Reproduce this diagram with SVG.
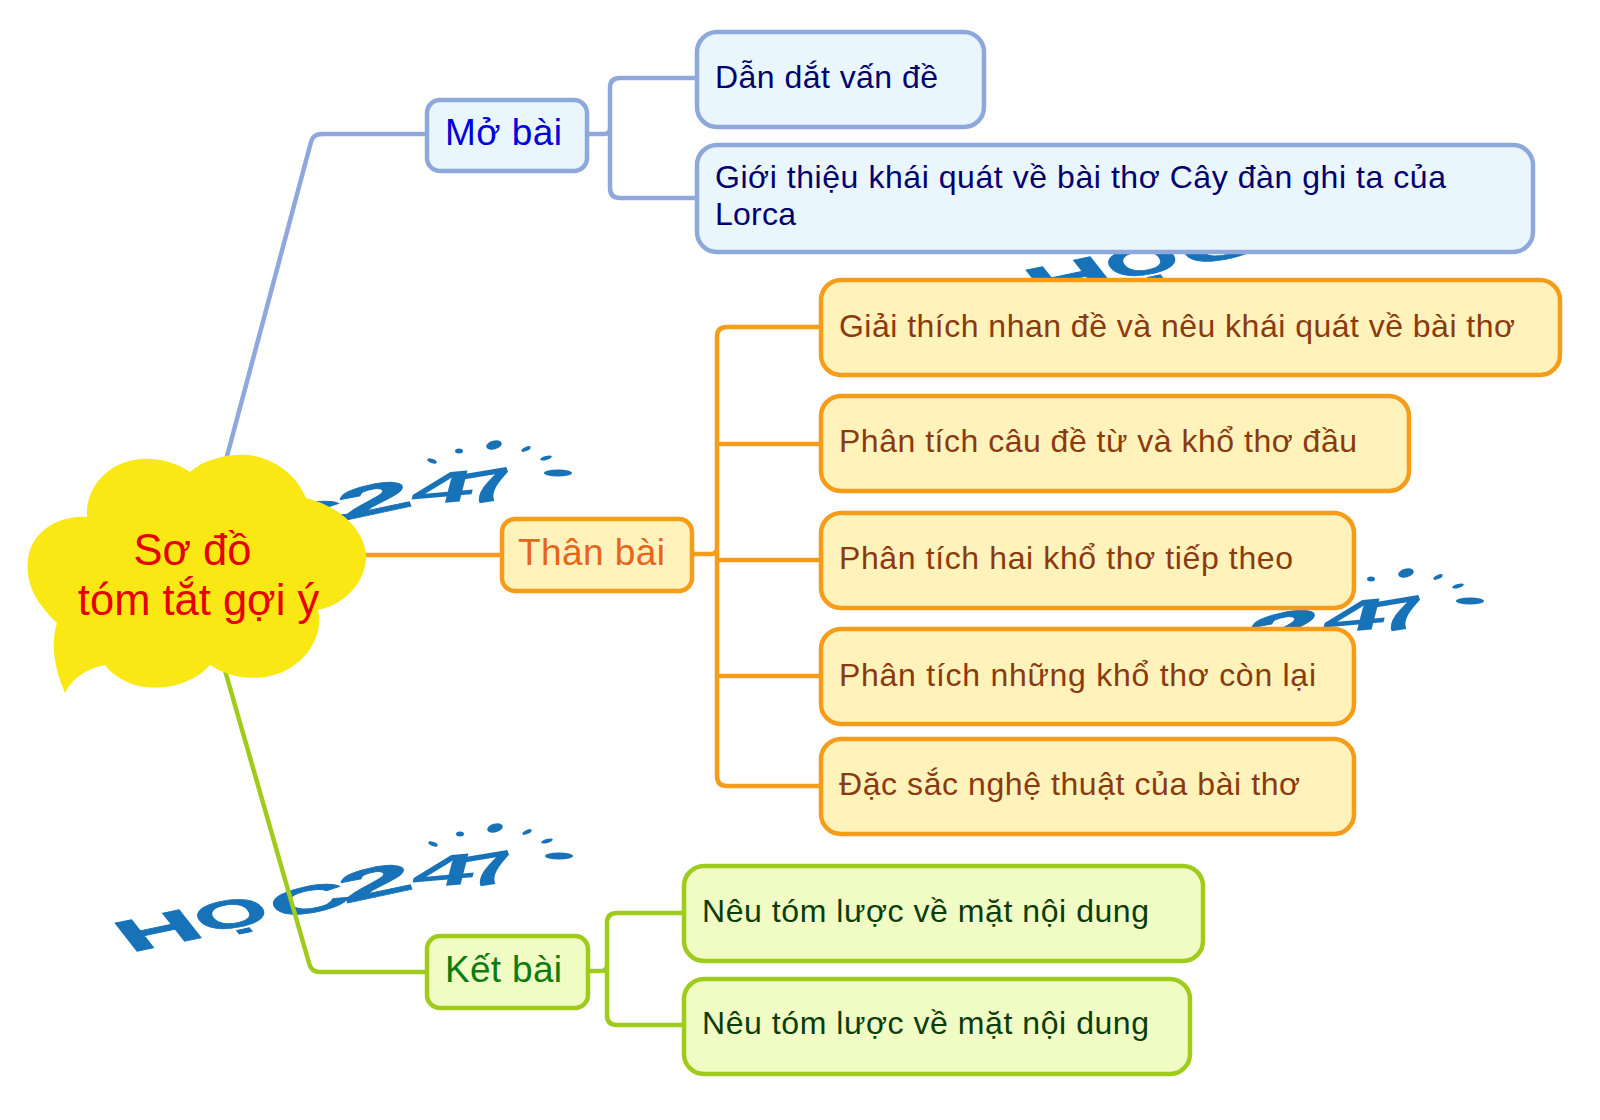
<svg xmlns="http://www.w3.org/2000/svg" xmlns:xlink="http://www.w3.org/1999/xlink" width="1600" height="1120" viewBox="0 0 1600 1120">
<style>
text{font-family:"Liberation Sans",Arial,"Noto Sans",sans-serif}
.lg{font-size:100px;font-weight:700;fill:#1872b8;stroke:#1872b8;stroke-width:2}
.dot{fill:#1872b8}
.c{fill:none;stroke-width:4.5;stroke-linejoin:round;stroke-linecap:butt}
.b{stroke:#8fa8dc}.o{stroke:#f59c1a}.g{stroke:#9fcb1a}
.nb{fill:#eaf6fd;stroke:#8fa8dc;stroke-width:4.5}
.no{fill:#fff2bb;stroke:#f59c1a;stroke-width:4.5}
.ng{fill:#f1fbc4;stroke:#9fcb1a;stroke-width:4.5}
.leaf{font-size:32px}
.main{font-size:37px}
.tb{fill:#00006e}.to{fill:#8b3a0e}.tg{fill:#0a3d0a}
</style>
<defs>
<g id="logo">
<text class="lg" transform="matrix(1.07 -.224 .32 .407 130.5 952.6)">H</text>
<text class="lg" transform="matrix(.88 -.19 .286 .357 206.6 933.7)">Ọ</text>
<text class="lg" transform="matrix(1.05 -.235 .23 .34 279 920)">C</text>
<text class="lg" transform="matrix(1.3 -.28 .143 .4 344 903.8)">2</text>
<text class="lg" style="stroke-width:0" transform="matrix(1.12 -.1 -.114 .45 409.3 889)">4</text>
<text class="lg" style="stroke-width:0" transform="matrix(1.02 -.17 .16 .435 466 888.7)">7</text>
<ellipse class="dot" cx="495" cy="828" rx="8" ry="4.5" transform="rotate(-15 495 828)"/>
<ellipse class="dot" cx="460" cy="834" rx="4" ry="2.5"/>
<ellipse class="dot" cx="433" cy="844" rx="5" ry="2" transform="rotate(20 433 844)"/>
<ellipse class="dot" cx="527" cy="832" rx="5" ry="2" transform="rotate(-25 527 832)"/>
<ellipse class="dot" cx="547" cy="841" rx="6" ry="2" transform="rotate(-15 547 841)"/>
<ellipse class="dot" cx="559" cy="856" rx="14" ry="3.5"/>
</g>
</defs>
<rect width="1600" height="1120" fill="#fff"/>
<g id="watermarks">
<use xlink:href="#logo" href="#logo"/>
<use xlink:href="#logo" href="#logo" transform="translate(-1 -383)"/>
<use xlink:href="#logo" href="#logo" transform="translate(911 -255)"/>
<use xlink:href="#logo" href="#logo" transform="translate(911 -653)"/>
</g>
<g id="connectors">
<path class="c b" d="M226 460L311 142Q313 134 322 134L426 134"/>
<path class="c b" d="M589 134H604Q610 134 610 128V88Q610 78 620 78H697M610 128V188Q610 198 620 198H697"/>
<path class="c o" d="M350 555H501"/>
<path class="c o" d="M693 554H711Q717 554 717 548V337Q717 327 727 327H820M717 444H820M717 548V560H820M717 560V676H820M717 676V776Q717 786 727 786H820"/>
<path class="c g" d="M222 660L309 963Q311 972 320 972L425 972"/>
<path class="c g" d="M589 971H601Q607 971 607 965V923Q607 913 617 913H683M607 965V1015Q607 1025 617 1025H683"/>
</g>
<g id="root">
<path fill="#f9e814" d="M65 693C55 670 50 645 57 623C38 605 25 585 28 560C30 535 55 515 87 517C85 490 105 465 134 460C155 456 175 462 190 472C205 458 235 452 255 456C280 462 298 478 306 498C335 505 362 525 366 553C368 580 345 605 318 610C325 640 300 672 265 677C245 680 225 675 210 665C195 682 170 690 145 687C128 685 112 675 105 665C88 668 72 678 65 693Z"/>
<text x="192.500" y="565" text-anchor="middle" font-size="43.500" fill="#e60000">Sơ đồ</text>
<text x="198.500" y="615" text-anchor="middle" font-size="43.500" fill="#e60000">tóm tắt gợi ý</text>
</g>
<g id="mo-bai">
<rect class="nb" x="427" y="100" width="160" height="71" rx="13"/>
<text class="main" x="445" y="145" fill="#0000dc" textLength="117">Mở bài</text>
</g>
<g id="mo-1">
<rect class="nb" x="697" y="32" width="287" height="95" rx="20"/>
<text class="leaf tb" x="715" y="88" textLength="223">Dẫn dắt vấn đề</text>
</g>
<g id="mo-2">
<rect class="nb" x="697" y="145" width="836" height="107" rx="20"/>
<text class="leaf tb" x="715" y="188" textLength="731">Giới thiệu khái quát về bài thơ Cây đàn ghi ta của</text>
<text class="leaf tb" x="715" y="225" textLength="81">Lorca</text>
</g>
<g id="than-bai">
<rect class="no" x="502" y="519" width="190" height="72" rx="13" fill="#fff2c8"/>
<text class="main" x="518" y="565" fill="#e8641a" textLength="147">Thân bài</text>
</g>
<g id="than-1">
<rect class="no" x="821" y="280" width="739" height="95" rx="20"/>
<text class="leaf to" x="839" y="337" textLength="676">Giải thích nhan đề và nêu khái quát về bài thơ</text>
</g>
<g id="than-2">
<rect class="no" x="821" y="396" width="588" height="95" rx="20"/>
<text class="leaf to" x="839" y="452" textLength="518">Phân tích câu đề từ và khổ thơ đầu</text>
</g>
<g id="than-3">
<rect class="no" x="821" y="513" width="533" height="95" rx="20"/>
<text class="leaf to" x="839" y="569" textLength="454">Phân tích hai khổ thơ tiếp theo</text>
</g>
<g id="than-4">
<rect class="no" x="821" y="629" width="533" height="95" rx="20"/>
<text class="leaf to" x="839" y="686" textLength="477">Phân tích những khổ thơ còn lại</text>
</g>
<g id="than-5">
<rect class="no" x="821" y="739" width="533" height="95" rx="20"/>
<text class="leaf to" x="839" y="795" textLength="461">Đặc sắc nghệ thuật của bài thơ</text>
</g>
<g id="ket-bai">
<rect class="ng" x="427" y="936" width="161" height="72" rx="13"/>
<text class="main" x="445" y="982" fill="#0c7d0c" textLength="117">Kết bài</text>
</g>
<g id="ket-1">
<rect class="ng" x="684" y="866" width="519" height="95" rx="20"/>
<text class="leaf tg" x="702" y="922" textLength="447">Nêu tóm lược về mặt nội dung</text>
</g>
<g id="ket-2">
<rect class="ng" x="684" y="979" width="506" height="95" rx="20"/>
<text class="leaf tg" x="702" y="1034" textLength="447">Nêu tóm lược về mặt nội dung</text>
</g>
</svg>
